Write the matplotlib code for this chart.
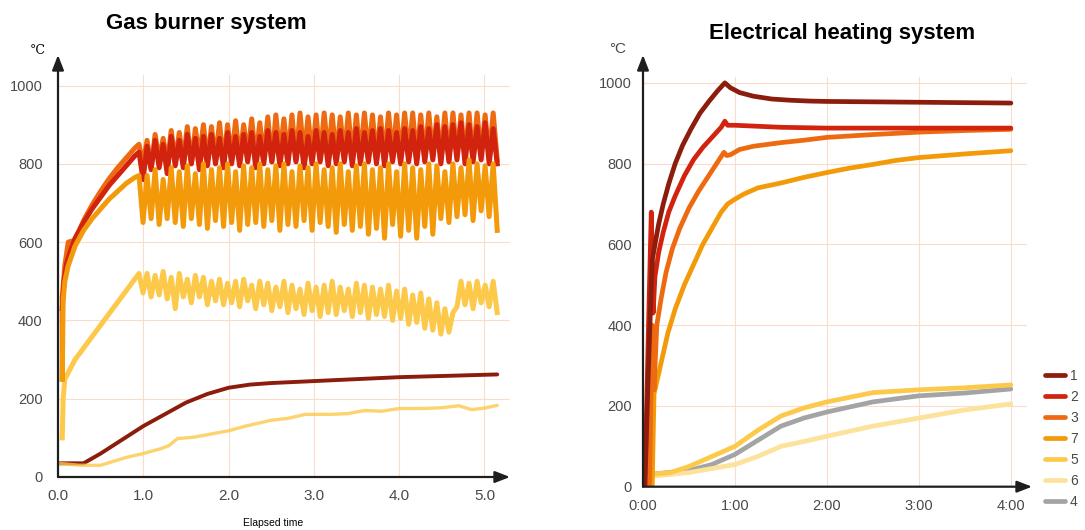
import matplotlib.pyplot as plt
import numpy as np

# colours per curve number
colors = {"1": "#8C1C0C", "2": "#D2230F", "3": "#EE6A10", "7": "#F39A0A",
          "5": "#FCC94A", "6": "#FCE29A", "4": "#A4A4A4"}

# ---- gas burner: ramp-up part (x, y) ----
gas3_x0 = [0.05, 0.05, 0.08, 0.12, 0.20, 0.25, 0.30, 0.40, 0.50, 0.60, 0.70, 0.80, 0.90, 0.95]
gas3_y0 = [250, 460, 540, 600, 605, 630, 655, 695, 730, 762, 790, 815, 840, 850]
gas2_x0 = [0.05, 0.07, 0.10, 0.15, 0.20, 0.30, 0.40, 0.50, 0.60, 0.70, 0.80, 0.90, 0.95]
gas2_y0 = [430, 500, 545, 580, 610, 650, 685, 715, 745, 770, 795, 820, 830]
gas7_x0 = [0.05, 0.06, 0.08, 0.12, 0.20, 0.30, 0.40, 0.50, 0.60, 0.70, 0.80, 0.90, 0.95]
gas7_y0 = [250, 450, 500, 540, 590, 630, 660, 685, 710, 730, 750, 765, 770]
gas5_x0 = [0.05, 0.06, 0.08, 0.20, 0.95]
gas5_y0 = [100, 200, 250, 300, 520]

# ---- gas burner: cycling part, troughs and peaks from 0.95 to 5.15 ----
gas3_peaks = [860, 875, 865, 885, 880, 895, 890, 900, 895, 905,
              900, 910, 900, 915, 905, 920, 925, 915, 925, 930,
              920, 925, 930, 925, 920, 930, 925, 930, 925, 920,
              930, 925, 930, 930, 925, 930, 920, 930, 930, 925,
              930, 930, 925, 930]
gas3_troughs = [800, 790, 810, 800, 805, 810, 800, 815, 805, 810,
                800, 815, 810, 820, 810, 815, 805, 820, 815, 810,
                820, 815, 810, 820, 815, 820, 810, 815, 820, 810,
                815, 820, 815, 820, 810, 815, 820, 815, 810, 820,
                815, 810, 820, 815]
gas3_end = 810

gas2_peaks = [845, 860, 850, 870, 860, 875, 865, 870, 875, 865,
              880, 870, 875, 880, 870, 885, 880, 875, 885, 880,
              870, 885, 880, 875, 885, 880, 890, 880, 885, 890,
              885, 880, 890, 885, 895, 890, 900, 895, 900, 905,
              900, 895, 905, 890]
gas2_troughs = [760, 785, 790, 775, 795, 790, 800, 785, 795, 800,
                790, 800, 795, 805, 790, 800, 805, 795, 800, 805,
                790, 800, 805, 795, 800, 805, 795, 800, 805, 800,
                795, 805, 800, 805, 800, 805, 810, 800, 805, 810,
                800, 805, 810, 800]
gas2_end = 800

gas7_peaks = [770, 785, 760, 790, 780, 795, 775, 800, 785, 790,
              800, 780, 795, 790, 800, 785, 795, 800, 780, 795,
              790, 800, 785, 790, 800, 780, 795, 800, 785, 790,
              800, 780, 800, 790, 785, 800, 795, 780, 800, 790,
              810, 800, 795, 800]
gas7_troughs = [650, 660, 645, 660, 650, 640, 660, 645, 635, 655,
                640, 650, 630, 645, 650, 640, 655, 630, 645, 640,
                655, 630, 650, 640, 625, 645, 630, 640, 620, 635,
                610, 645, 615, 630, 610, 640, 620, 660, 650, 665,
                670, 655, 680, 665]
gas7_end = 630

gas5_peaks = [520, 515, 525, 510, 520, 505, 515, 510, 500, 505,
              495, 500, 505, 490, 500, 495, 485, 500, 490, 480,
              495, 485, 490, 500, 485, 480, 495, 490, 485, 480,
              490, 475, 480, 465, 470, 455, 445, 430, 420, 500,
              495, 500, 490, 500]
gas5_troughs = [470, 460, 465, 455, 430, 460, 445, 460, 440, 450,
                440, 445, 435, 450, 430, 440, 425, 435, 420, 430,
                415, 425, 410, 420, 415, 425, 410, 420, 405, 415,
                410, 400, 405, 390, 395, 380, 375, 365, 370, 435,
                440, 430, 445, 435]
gas5_end = 420

# smooth gas curves
gas1_x = [0.0, 0.30, 0.50, 0.75, 1.00, 1.25, 1.50, 1.75, 2.00, 2.25, 2.50, 3.00, 3.50, 4.00, 4.50, 5.15]
gas1_y = [35, 35, 60, 95, 130, 160, 190, 212, 228, 236, 240, 245, 250, 255, 258, 262]
gas6_x = [0.0, 0.25, 0.50, 0.80, 1.00, 1.20, 1.30, 1.40, 1.60, 1.80, 2.00, 2.20, 2.50, 2.70, 2.90,
          3.20, 3.40, 3.60, 3.80, 4.00, 4.30, 4.50, 4.70, 4.85, 5.00, 5.15]
gas6_y = [35, 30, 30, 50, 60, 72, 80, 98, 102, 110, 118, 130, 145, 150, 160, 160, 162, 170, 168,
          175, 175, 177, 182, 172, 176, 183]

# ---- electrical heating ----
el1_x = [0.02, 0.06, 0.10, 0.13, 0.17, 0.22, 0.28, 0.35, 0.43, 0.52, 0.62, 0.72, 0.81, 0.89,
         0.95, 1.05, 1.20, 1.40, 1.60, 1.80, 2.00, 2.50, 3.00, 3.50, 4.00]
el1_y = [0, 300, 560, 600, 650, 700, 750, 800, 845, 885, 925, 955, 980, 1000,
         988, 976, 967, 960, 957, 955, 954, 953, 952, 951, 950]
el2_x = [0.02, 0.06, 0.09, 0.11, 0.13, 0.17, 0.22, 0.28, 0.35, 0.45, 0.55, 0.65, 0.75, 0.85,
         0.89, 0.92, 1.00, 1.20, 1.50, 2.00, 2.50, 3.00, 4.00]
el2_y = [0, 400, 680, 430, 520, 580, 630, 680, 720, 770, 810, 840, 865, 890,
         905, 895, 895, 893, 890, 888, 888, 888, 888]
el3_x = [0.07, 0.10, 0.12, 0.15, 0.20, 0.25, 0.32, 0.40, 0.50, 0.60, 0.70, 0.80, 0.88, 0.91,
         0.95, 1.05, 1.20, 1.50, 1.75, 2.00, 2.50, 3.00, 3.50, 4.00]
el3_y = [0, 400, 240, 400, 470, 530, 590, 640, 690, 730, 765, 800, 828, 820,
         822, 835, 843, 852, 858, 865, 872, 878, 882, 885]
el7_x = [0.10, 0.12, 0.15, 0.20, 0.27, 0.35, 0.45, 0.55, 0.65, 0.75, 0.85, 0.92, 1.00, 1.10,
         1.25, 1.50, 1.75, 2.00, 2.25, 2.50, 2.75, 3.00, 3.50, 4.00]
el7_y = [0, 230, 260, 310, 380, 440, 500, 550, 600, 640, 680, 700, 712, 725,
         740, 752, 766, 778, 789, 798, 808, 815, 824, 832]
el5_x = [0.05, 0.30, 0.50, 0.75, 1.00, 1.25, 1.50, 1.75, 2.00, 2.50, 3.00, 3.50, 4.00]
el5_y = [30, 35, 50, 75, 100, 140, 175, 195, 210, 233, 240, 245, 252]
el6_x = [0.05, 0.50, 1.00, 1.25, 1.50, 1.75, 2.00, 2.50, 3.00, 3.50, 4.00]
el6_y = [25, 35, 55, 75, 100, 112, 125, 150, 170, 190, 205]
el4_x = [0.05, 0.50, 0.75, 1.00, 1.25, 1.50, 1.75, 2.00, 2.50, 3.00, 3.50, 4.00]
el4_y = [30, 40, 55, 80, 115, 150, 170, 185, 210, 225, 232, 242]

gas_ticks = [0, 1, 2, 3, 4, 5]
gas_tick_labels = ["0.0", "1.0", "2.0", "3.0", "4.0", "5.0"]
el_ticks = [0, 1, 2, 3, 4]
el_tick_labels = ["0:00", "1:00", "2:00", "3:00", "4:00"]
y_ticks = [0, 200, 400, 600, 800, 1000]
legend_order = ["1", "2", "3", "7", "5", "6", "4"]

grid_c = "#FADCCB"
tick_c = "#4A4A4A"
axis_c = "#1E1E1E"


def cycling(x0, y0, troughs, peaks, end):
    vals = []
    for t, p in zip(troughs, peaks):
        vals += [t, p]
    vals.append(end)
    xs = np.linspace(0.95, 5.15, len(vals) + 1)[1:]
    return list(x0) + list(xs), list(y0) + vals


def frame(ax, xmax, ymax, xticks, xlabels, grid_x, grid_y, xpad, ypad, xsize, ysize):
    ax.set_xlim(0, xmax)
    ax.set_ylim(0, ymax)
    for s in ax.spines.values():
        s.set_visible(False)
    for t in y_ticks[1:]:
        ax.plot([0, grid_x], [t, t], color=grid_c, lw=0.8, zorder=0)
    for t in xticks[1:]:
        ax.plot([t, t], [0, grid_y], color=grid_c, lw=0.8, zorder=0)
    style = "-|>,head_width=0.35,head_length=0.9"
    ax.annotate("", xy=(0, ymax), xytext=(0, 0),
                arrowprops=dict(arrowstyle=style, color=axis_c, lw=1.6, shrinkA=0, shrinkB=0),
                annotation_clip=False)
    ax.annotate("", xy=(xmax, 0), xytext=(0, 0),
                arrowprops=dict(arrowstyle=style, color=axis_c, lw=1.6, shrinkA=0, shrinkB=0),
                annotation_clip=False)
    ax.set_xticks(xticks, xlabels)
    ax.set_yticks(y_ticks, [str(v) for v in y_ticks])
    ax.tick_params(axis="x", length=0, pad=xpad, labelsize=xsize, labelcolor=tick_c)
    ax.tick_params(axis="y", length=0, pad=ypad, labelsize=ysize, labelcolor=tick_c)


fig = plt.figure(figsize=(10.85, 5.30), dpi=100)
plt.rcParams["font.family"] = ["Liberation Sans", "DejaVu Sans"]

W, H = 1085, 530
ax1 = fig.add_axes([58 / W, (H - 477) / H, (510 - 58) / W, (477 - 55) / H])
frame(ax1, 5.3, 1078, gas_ticks, gas_tick_labels, 5.3, 1027, 9, 11, 11, 10.5)

lw = 3.6
ax1.plot(gas1_x, gas1_y, color=colors["1"], lw=2.8, solid_capstyle="round")
ax1.plot(gas6_x, gas6_y, color=colors["5"], lw=2.4, solid_capstyle="round", alpha=0.8)
x, y = cycling(gas5_x0, gas5_y0, gas5_troughs, gas5_peaks, gas5_end)
ax1.plot(x, y, color=colors["5"], lw=lw)
x, y = cycling(gas3_x0, gas3_y0, gas3_troughs, gas3_peaks, gas3_end)
ax1.plot(x, y, color=colors["3"], lw=lw)
x, y = cycling(gas2_x0, gas2_y0, gas2_troughs, gas2_peaks, gas2_end)
ax1.plot(x, y, color=colors["2"], lw=lw)
x, y = cycling(gas7_x0, gas7_y0, gas7_troughs, gas7_peaks, gas7_end)
ax1.plot(x, y, color=colors["7"], lw=lw)

ax2 = fig.add_axes([643 / W, (H - 486.7) / H, (1032 - 643) / W, (486.7 - 55) / H])
frame(ax2, 4.23, 1069, el_ticks, el_tick_labels, 4.17, 1015, 9, 8, 10.5, 10.5)

el_series = {"4": (el4_x, el4_y), "6": (el6_x, el6_y), "5": (el5_x, el5_y), "7": (el7_x, el7_y),
             "3": (el3_x, el3_y), "2": (el2_x, el2_y), "1": (el1_x, el1_y)}
lines = {}
for k, (xs, ys) in el_series.items():
    lines[k], = ax2.plot(xs, ys, color=colors[k], lw=3.4, solid_capstyle="round")

fig.legend([lines[k] for k in legend_order], legend_order, loc="upper left",
           bbox_to_anchor=(1045 / W, (H - 369) / H), frameon=False, fontsize=10,
           handlelength=1.45, handletextpad=0.35, labelspacing=0.5, borderpad=0, borderaxespad=0,
           labelcolor=tick_c)

fig.text(206 / W, 1 - 23 / H, "Gas burner system", ha="center", va="center",
         fontsize=16, fontweight="bold")
fig.text(842 / W, 1 - 33 / H, "Electrical heating system", ha="center", va="center",
         fontsize=16, fontweight="bold")
fig.text(38 / W, 1 - 51 / H, "°C", ha="center", va="center", fontsize=9, family="DejaVu Serif")
fig.text(618 / W, 1 - 49 / H, "°C", ha="center", va="center", fontsize=11, color=tick_c)
fig.text(273 / W, 1 - 523 / H, "Elapsed time", ha="center", va="center", fontsize=7.5)

fig.savefig("out.png", dpi=100)
